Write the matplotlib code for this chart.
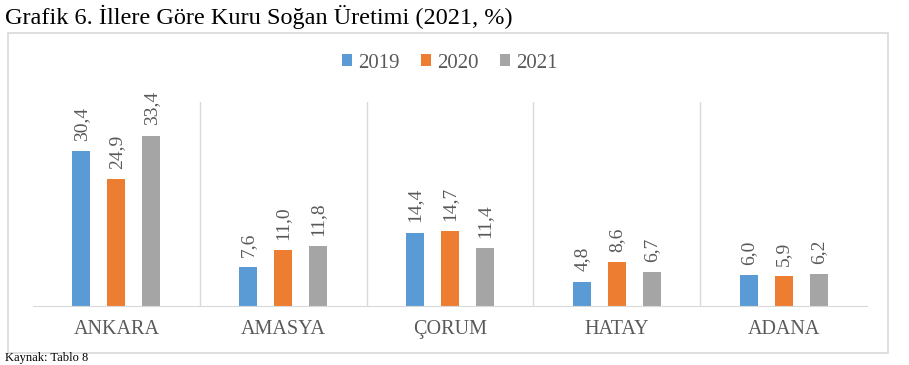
import numpy as np
import matplotlib.pyplot as plt
from matplotlib.patches import Rectangle

plt.rcParams['font.family'] = ['Liberation Serif', 'DejaVu Serif']

iller = ['ANKARA', 'AMASYA', 'ÇORUM', 'HATAY', 'ADANA']
yillar = ['2019', '2020', '2021']
v2019 = [30.4, 7.6, 14.4, 4.8, 6.0]
v2020 = [24.9, 11.0, 14.7, 8.6, 5.9]
v2021 = [33.4, 11.8, 11.4, 6.7, 6.2]
renkler = ['#5B9BD5', '#ED7D31', '#A5A5A5']

fig = plt.figure(figsize=(9.09, 3.65), dpi=100)
W, H = 909, 365

# chart frame
fig.patches.append(Rectangle((8 / W, 1 - 353 / H), 880 / W, 320 / H,
                             transform=fig.transFigure, fill=False,
                             edgecolor='#D9D9D9', linewidth=1.2))

fig.text(5 / W, 1 - 17 / H, 'Grafik 6. İllere Göre Kuru Soğan Üretimi (2021, %)',
         fontsize=17.5, va='center', ha='left', color='black')
fig.text(5 / W, 0.5 / H, 'Kaynak: Tablo 8', fontsize=9, va='bottom', ha='left')

ax = fig.add_axes([33 / W, 59 / H, 834 / W, 204 / H])
x = np.arange(len(iller))
w = 0.108
off = 0.21
seriler = [v2019, v2020, v2021]
for i, (vals, c, lab) in enumerate(zip(seriler, renkler, yillar)):
    xs = x + (i - 1) * off
    ax.bar(xs, vals, width=w, color=c, label=lab)
    for xx, v in zip(xs, vals):
        ax.text(xx, v + 2.0, f'{v:.1f}'.replace('.', ','), rotation=90,
                ha='center', va='bottom', fontsize=14, color='#595959')

ax.set_xlim(-0.5, len(iller) - 0.5)
ax.set_ylim(0, 40)
for s in x[:-1] + 0.5:
    ax.axvline(s, color='#D9D9D9', linewidth=1)
ax.set_yticks([])
ax.set_xticks(x)
ax.set_xticklabels(iller, fontsize=14.5, color='#595959')
ax.tick_params(axis='x', length=0, pad=10)
for k in ['top', 'left', 'right']:
    ax.spines[k].set_visible(False)
ax.spines['bottom'].set_color('#D9D9D9')

ax.legend(loc='center', bbox_to_anchor=(0.495, 1 - 63 / H), bbox_transform=fig.transFigure,
          ncol=3, frameon=False, fontsize=15, handlelength=0.5, handleheight=0.5,
          handletextpad=0.3, columnspacing=1.0, labelcolor='#595959')

fig.savefig('out.png', dpi=100)
